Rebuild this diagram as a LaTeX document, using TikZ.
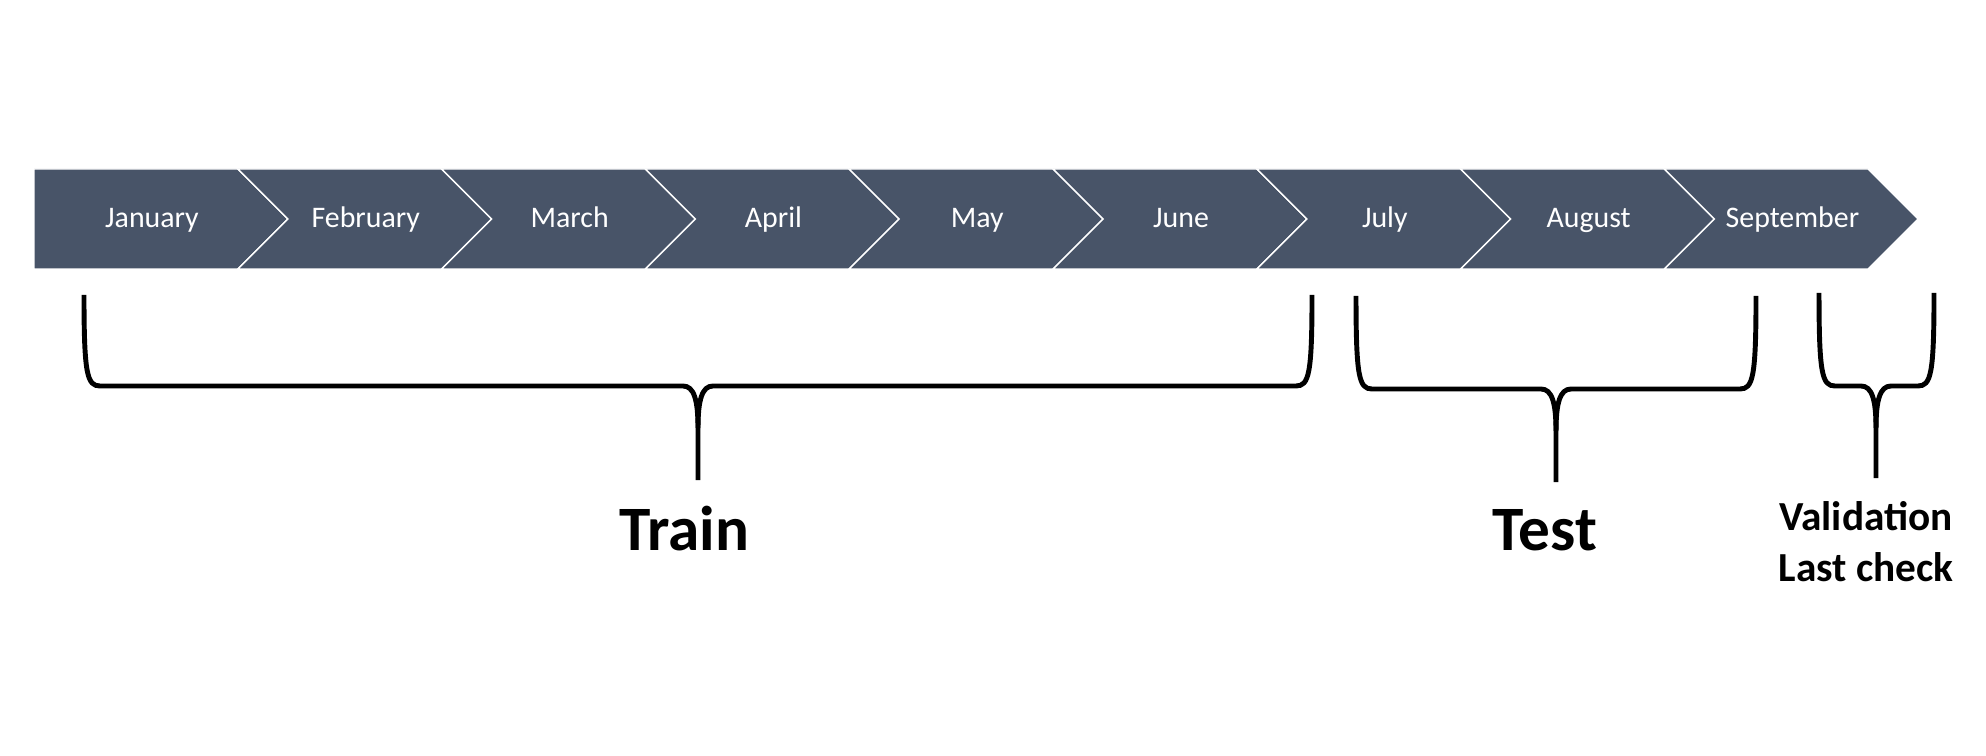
\documentclass[tikz,border=0pt]{standalone}
\usepackage{fontspec}
\setmainfont{Carlito}
\definecolor{slate}{RGB}{72,84,104}

% brace: left x, right x, top y, bar y, tip x, tip y
\newcommand{\splitbrace}[6]{%
    \draw[brace] (#1,#3) .. controls (#1,#4-12) and (#1+3,#4) .. (#1+16,#4)
        -- (#5-15,#4) .. controls (#5-4,#4) and (#5,#4+14) .. (#5,#4+42) -- (#5,#6);
    \draw[brace] (#2,#3) .. controls (#2,#4-12) and (#2-3,#4) .. (#2-16,#4)
        -- (#5+15,#4) .. controls (#5+4,#4) and (#5,#4+14) .. (#5,#4+42);}

\begin{document}
\begin{tikzpicture}[x=0.02cm, y=-0.02cm,
    month/.style={text=white, anchor=base, font=\fontsize{17}{20}\selectfont},
    part/.style={anchor=base, font=\bfseries\fontsize{36}{43}\selectfont},
    brace/.style={line width=2.8pt, line join=round}]
    \useasboundingbox (0,0) rectangle (1986,756);
    \foreach \m [count=\i from 0] in {January,February,March,April,May,June,July,August,September} {
        \pgfmathsetmacro{\xl}{34+203.8*\i}
        \pgfmathsetmacro{\xr}{\xl+203.8}
        \pgfmathsetmacro{\n}{\i==0 ? 0 : 50}
        \pgfmathsetmacro{\tx}{\i==0 ? 152 : \xl+128}
        \draw[fill=slate, draw=white, line width=0.8pt] (\xl,169) -- (\xr,169)
            -- (\xr+50,219) -- (\xr,269) -- (\xl,269) -- (\xl+\n,219) -- cycle;
        \node[month] (\m) at (\tx,228) {\m};
    }
    \splitbrace{84}{1312}{295}{386}{698}{480}
    \splitbrace{1356}{1756}{296}{389}{1556}{482}
    \splitbrace{1819}{1934}{293}{386}{1876}{478}
    \node[part] (train) at (684,550) {Train};
    \node[part] (test) at (1545,550) {Test};
    \node[font=\bfseries\fontsize{23.5}{29}\selectfont, align=center] (valid) at (1866,542) {Validation\\Last check};
\end{tikzpicture}
\end{document}
